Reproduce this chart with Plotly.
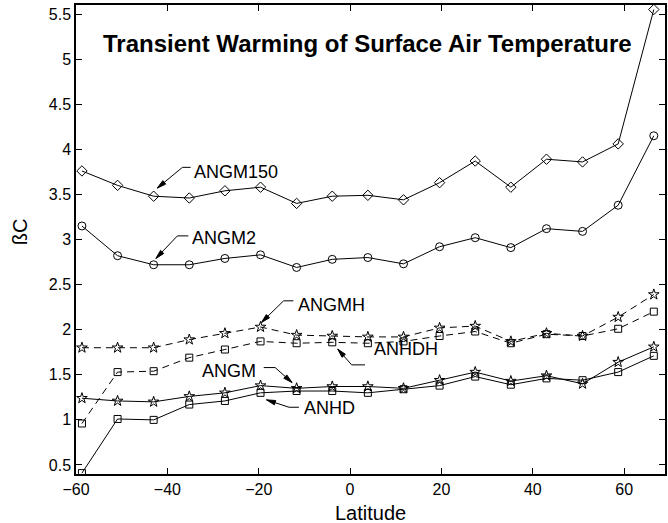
import math
import plotly.graph_objects as go

# ---- data ----
latitude = [-58.7, -50.9, -43.0, -35.2, -27.4, -19.6, -11.7, -3.9, 3.9, 11.7,
            19.6, 27.4, 35.2, 43.0, 50.9, 58.7, 66.5]
angm150 = [3.76, 3.60, 3.48, 3.46, 3.54, 3.58, 3.40, 3.48, 3.49, 3.44, 3.63, 3.87, 3.58, 3.89, 3.86, 4.06, 5.55]
angm2 = [3.15, 2.82, 2.72, 2.72, 2.79, 2.83, 2.69, 2.78, 2.80, 2.73, 2.92, 3.02, 2.91, 3.12, 3.09, 3.38, 4.15]
angmh = [1.80, 1.80, 1.80, 1.89, 1.96, 2.03, 1.94, 1.93, 1.92, 1.92, 2.02, 2.04, 1.87, 1.96, 1.93, 2.14, 2.39]
anhdh = [0.96, 1.53, 1.54, 1.69, 1.78, 1.87, 1.85, 1.86, 1.85, 1.87, 1.93, 1.98, 1.85, 1.95, 1.93, 2.01, 2.20]
angm = [1.24, 1.21, 1.20, 1.26, 1.30, 1.38, 1.35, 1.37, 1.37, 1.35, 1.44, 1.53, 1.43, 1.49, 1.40, 1.64, 1.81]
anhd = [0.41, 1.01, 1.00, 1.17, 1.21, 1.30, 1.32, 1.32, 1.30, 1.34, 1.38, 1.48, 1.39, 1.46, 1.44, 1.53, 1.71]

x_ticks = [-60, -40, -20, 0, 20, 40, 60]
y_ticks = [0.5, 1, 1.5, 2, 2.5, 3, 3.5, 4, 4.5, 5, 5.5]
y_tick_labels = ["0.5", "1", "1.5", "2", "2.5", "3", "3.5", "4", "4.5", "5", "5.5"]

title_text = "Transient Warming of Surface Air Temperature"
x_title = "Latitude"
y_title = "ßC"

# label layout: text, text anchor pos, side, line end (near text), kink, arrow tip
labels = [
    ("ANGM150", (-34.6, 3.75), "left", (-34.9, 3.80), (-36.7, 3.80), (-42.2, 3.57)),
    ("ANGM2", (-35.0, 3.02), "left", (-35.4, 3.04), (-37.8, 3.04), (-42.5, 2.79)),
    ("ANGMH", (-11.8, 2.27), "left", (-12.4, 2.32), (-14.55, 2.32), (-19.4, 2.08)),
    ("ANHDH", (4.9, 1.79), "left", (3.27, 1.61), (0.35, 1.61), (-2.7, 1.785)),
    ("ANGM", (-20.2, 1.545), "right", (-18.9, 1.58), (-16.4, 1.58), (-12.7, 1.414)),
    ("ANHD", (-10.6, 1.13), "left", (-11.2, 1.14), (-13.35, 1.14), (-18.3, 1.222)),
]

series = [
    (angm150, "diamond-open", 8, "solid"),
    (angm2, "circle-open", 8, "solid"),
    (angmh, "star-open", 8, "7px,5px"),
    (anhdh, "square-open", 7, "7px,5px"),
    (angm, "star-open", 8, "solid"),
    (anhd, "square-open", 7, "solid"),
]

W, H = 668, 523
ml, mr, mt, mb = 76, 1, 5, 49
pw = W - ml - mr
ph = H - mt - mb
x_range = [-60, 68.95]
y_range = [0.4, 5.6]
sx = pw / (x_range[1] - x_range[0])
sy = ph / (y_range[1] - y_range[0])

fig = go.Figure()
for vals, sym, size, dash in series:
    fig.add_trace(go.Scatter(
        x=latitude, y=vals, mode="lines+markers",
        line=dict(color="black", width=1, dash=dash),
        marker=dict(symbol=sym, size=size, color="black", line=dict(width=1, color="black")),
        showlegend=False,
    ))

annotations = []
shapes = []
AL, AW = 9.0, 4.5
for text, tpos, side, lend, kink, tip in labels:
    annotations.append(dict(
        x=tpos[0], y=tpos[1], xref="x", yref="y", text=text, showarrow=False,
        xanchor=side, yanchor="middle",
        font=dict(family="Arial", size=18, color="black"),
    ))
    shapes.append(dict(type="line", xref="x", yref="y", x0=lend[0], y0=lend[1],
                       x1=kink[0], y1=kink[1], line=dict(color="black", width=1)))
    shapes.append(dict(type="line", xref="x", yref="y", x0=kink[0], y0=kink[1],
                       x1=tip[0], y1=tip[1], line=dict(color="black", width=1)))
    # arrowhead as a narrow filled triangle in pixel units anchored at the tip
    ux = (tip[0] - kink[0]) * sx
    uy = (tip[1] - kink[1]) * sy
    n = math.hypot(ux, uy)
    ux, uy = ux / n, uy / n
    bx, by = -AL * ux, -AL * uy
    nx, ny = -uy * AW / 2, ux * AW / 2
    path = "M0,0 L{:.2f},{:.2f} L{:.2f},{:.2f} Z".format(bx + nx, by + ny, bx - nx, by - ny)
    shapes.append(dict(type="path", xref="x", yref="y", xsizemode="pixel", ysizemode="pixel",
                       xanchor=tip[0], yanchor=tip[1], path=path,
                       fillcolor="black", line=dict(color="black", width=1)))

annotations.append(dict(
    x=(368.5 - ml) / pw, y=(H - mb - 43) / ph, xref="paper", yref="paper",
    text="<b>" + title_text + "</b>", showarrow=False, xanchor="center", yanchor="middle",
    font=dict(family="Arial", size=24, color="black"),
))
annotations.append(dict(
    x=0.5, y=-(513 - (H - mb)) / ph, xref="paper", yref="paper",
    text=x_title, showarrow=False, xanchor="center", yanchor="middle",
    font=dict(family="Arial", size=20, color="black"),
))
annotations.append(dict(
    x=(20 - ml) / pw, y=(H - mb - 232) / ph, xref="paper", yref="paper",
    text=y_title, showarrow=False, xanchor="center", yanchor="middle", textangle=-90,
    font=dict(family="Arial", size=20, color="black"),
))

fig.update_layout(
    width=W, height=H,
    margin=dict(l=ml, r=mr, t=mt, b=mb, pad=0),
    paper_bgcolor="white", plot_bgcolor="white",
    font=dict(family="Arial", size=16, color="black"),
    annotations=annotations, shapes=shapes,
    xaxis=dict(range=x_range, tickvals=x_ticks, ticks="inside", ticklen=6,
               tickwidth=1, tickcolor="black", showline=True, linecolor="black",
               linewidth=1.5, mirror="ticks", showgrid=False, zeroline=False,
               tickfont=dict(size=16)),
    yaxis=dict(range=y_range, tickvals=y_ticks, ticktext=y_tick_labels,
               ticks="inside", ticklen=6, tickwidth=1, tickcolor="black",
               showline=True, linecolor="black", linewidth=1.5, mirror="ticks",
               showgrid=False, zeroline=False, tickfont=dict(size=16)),
)

fig.write_html("out.html")
